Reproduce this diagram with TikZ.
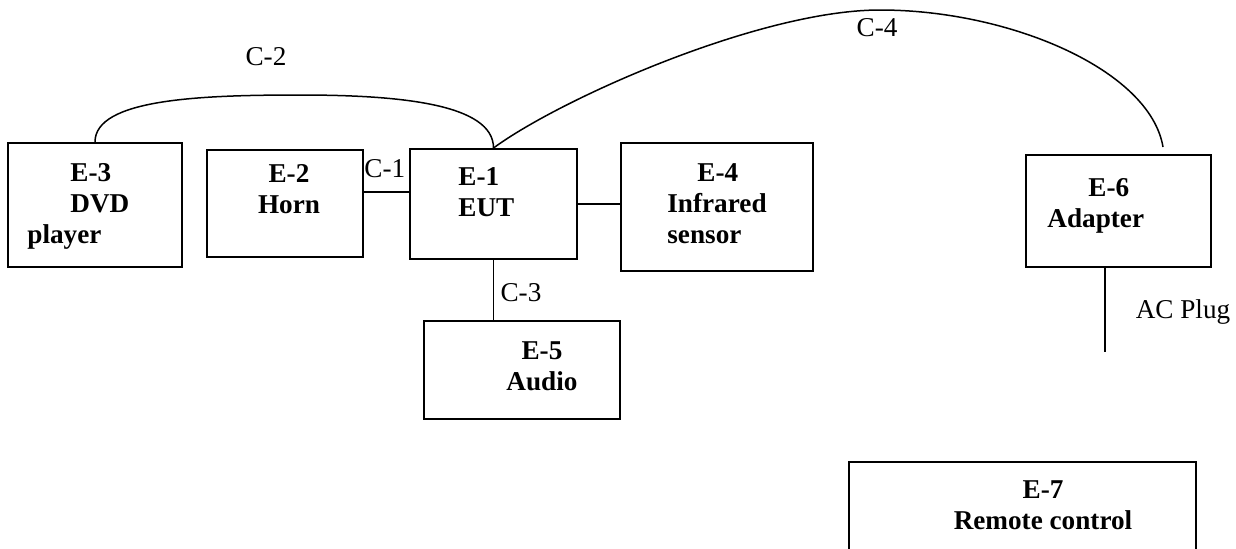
\documentclass[tikz,border=0pt]{standalone}
\usepackage{fontspec}
\setmainfont{Liberation Serif}
\tikzset{
  unit/.style={draw,line width=1pt,inner sep=0pt},
  unitname/.style={font=\bfseries\fontsize{13.6}{15.5}\selectfont,inner sep=0pt},
  cablename/.style={font=\fontsize{13.6}{15.5}\selectfont,inner sep=0pt},
  cable/.style={line width=0.75pt}
}
\begin{document}
\begin{tikzpicture}[x=0.5pt,y=-0.5pt]
\useasboundingbox (0,0) rectangle (1236,548);
\clip (0,0) rectangle (1236,548);
% boxes
\node[unit,minimum width=87pt,minimum height=62pt] (e3) at (95,205) {};
\node[unit,minimum width=78pt,minimum height=53.5pt] (e2) at (285,203.5) {};
\node[unit,minimum width=83.5pt,minimum height=55pt] (e1) at (493.5,204) {};
\node[unit,minimum width=96pt,minimum height=64pt] (e4) at (717,207) {};
\node[unit,minimum width=98pt,minimum height=49pt] (e5) at (522,370) {};
\node[unit,minimum width=92.5pt,minimum height=56pt] (e6) at (1118.5,211) {};
\node[unit,minimum width=173.5pt,minimum height=69pt] (e7) at (1022.5,531) {};
% names
\node[unitname,anchor=north west,align=left] (e3txt) at (27,163) {\hspace*{21.5pt}E-3\\\hspace*{21.5pt}DVD\\player};
\node[unitname,anchor=north,align=center] (e2txt) at (289,164) {E-2\\Horn};
\node[unitname,anchor=north west,align=left] (e1txt) at (458,167) {E-1\\EUT};
\node[unitname,anchor=north west,align=left] (e4txt) at (667,163) {\hspace*{15pt}E-4\\Infrared\\sensor};
\node[unitname,anchor=north,align=center] (e5txt) at (542,341) {E-5\\Audio};
\node[unitname,anchor=north west,align=left] (e6txt) at (1047,178) {\hspace*{20.5pt}E-6\\Adapter};
\node[unitname,anchor=north,align=center] (e7txt) at (1043,480) {E-7\\Remote control};
% cables
\coordinate (c2top) at (300,95);
\coordinate (c4top) at (880,10);
\coordinate (c4end) at (1163,147);
\coordinate (plug) at (1105,352);
\draw[cable] ([yshift=6pt]e1.west) -- ([yshift=6pt]e1.west -| e2.east);
\draw[cable] (e1.east) -- (e1.east -| e4.west);
\draw[cable] (e1.south) -- (e1.south |- e5.north);
\draw[cable] (e6.south -| plug) -- (plug);
\draw[cable] (e3.north) .. controls +(0,-43) and +(-100,0) .. (c2top) .. controls +(100,0) and +(0,-44) .. (e1.north);
\draw[cable] (e1.north) .. controls +(66.5,-49) and +(-120,0) .. (c4top) .. controls +(130,0) and +(-13,-77) .. (c4end);
\node[cablename,anchor=base west] (c1) at (364,177) {C-1};
\node[cablename] (c2) at (266,57) {C-2};
\node[cablename] (c3) at (521,293) {C-3};
\node[cablename] (c4) at (877,28) {C-4};
\node[cablename] (ac) at (1183,312) {AC Plug};
\end{tikzpicture}
\end{document}
